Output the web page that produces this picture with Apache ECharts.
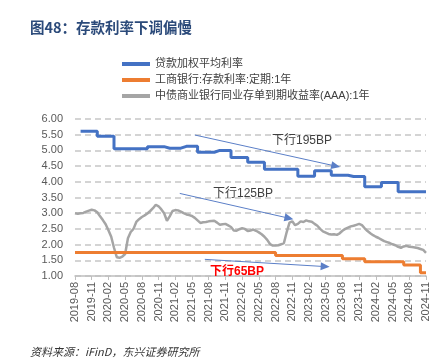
<!DOCTYPE html>
<html><head><meta charset="utf-8">
<script src="https://cdn.jsdelivr.net/npm/echarts@6/dist/echarts.min.js"></script>
<style>html,body{margin:0;padding:0;background:#fff}#c{width:436px;height:359px}</style>
</head><body><div id="c"></div>
<script>
// x-axis: month index 0 = 2019-08 ... 63 = 2024-11
const tickLabels = ['2019-08','2019-11','2020-02','2020-05','2020-08','2020-11','2021-02','2021-05','2021-08','2021-11','2022-02','2022-05','2022-08','2022-11','2023-02','2023-05','2023-08','2023-11','2024-02','2024-05','2024-08','2024-11'];
const seriesNames = ['贷款加权平均利率','工商银行:存款利率:定期:1年','中债商业银行同业存单到期收益率(AAA):1年'];

// monthly values, index = month (0 = 2019-08)
const loanRate = [null,
  5.61,5.61,5.61, 5.45,5.45,5.45, 5.05,5.05,5.05,5.05,5.05,5.05,
  5.12,5.12,5.12, 5.07,5.07,5.07, 5.13,5.13,5.13, 4.94,4.94,4.94,
  5.00,5.00,5.00, 4.77,4.77,4.77, 4.62,4.62,4.62,
  4.40,4.40,4.40,4.40,4.40,4.40, 4.18,4.18,4.18, 4.35,4.35,4.35,
  4.21,4.21,4.21, 4.17,4.17,4.17, 3.84,3.84,3.84, 3.98,3.98,3.98,
  3.68,3.68,3.68,3.68,3.68,3.68];
const icbcDeposit = [
  1.75,1.75,1.75,1.75,1.75,1.75,1.75,1.75,1.75,1.75,1.75,1.75,
  1.75,1.75,1.75,1.75,1.75,1.75,1.75,1.75,1.75,1.75,1.75,1.75,
  1.75,1.75,1.75,1.75,1.75,1.75,1.75,1.75,1.75,1.75,1.75,1.75,
  1.65,1.65,1.65,1.65,1.65,1.65,1.65,1.65,1.65,1.65,1.65,1.65,
  1.55,1.55,1.55,1.55,
  1.45,1.45,1.45,1.45,1.45,1.45,1.45,
  1.35,1.35,1.35,
  1.10,1.10];
// half-monthly values, index/2 = month
const ncdYield = [
  3.00,2.98,3.00,3.01,3.05,3.08,3.11,3.09,3.03,2.90,
  2.78,2.65,2.46,2.25,1.90,1.60,1.58,1.62,1.70,2.20,
  2.40,2.50,2.72,2.81,2.88,2.93,2.99,3.07,3.16,3.27,
  3.22,3.12,3.00,2.76,2.90,3.07,3.10,3.09,3.05,3.00,
  2.96,2.94,2.91,2.85,2.77,2.69,2.71,2.72,2.74,2.75,
  2.76,2.70,2.63,2.65,2.66,2.61,2.56,2.45,2.44,2.49,
  2.52,2.50,2.43,2.45,2.48,2.44,2.39,2.33,2.25,2.15,
  2.02,1.97,1.97,1.98,2.01,2.05,2.40,2.70,2.74,2.62,
  2.66,2.74,2.72,2.77,2.74,2.73,2.66,2.60,2.50,2.42,
  2.38,2.34,2.32,2.33,2.31,2.36,2.44,2.50,2.54,2.58,
  2.60,2.63,2.66,2.62,2.52,2.43,2.36,2.30,2.25,2.21,
  2.16,2.11,2.08,2.05,2.01,1.98,1.93,1.90,1.94,1.96,
  1.93,1.92,1.91,1.89,1.86,1.83,1.74];

// annotation arrows [startMonth, startValue, endMonth, endValue] and labels
const arrows = [[21.5,5.49,46.8,4.50],[18.8,3.63,38.4,2.84],[23.3,1.53,44.9,1.30]];
const notes = ['下行195BP','下行125BP','下行65BP'];

const lastIdx = loanRate.length - 1;
function stepPairs(arr){
  const out = [];
  arr.forEach((v,i)=>{ if(v==null) return; out.push([i,v]); out.push([Math.min(i+1,lastIdx),v]); });
  return out;
}
const ncdPairs = ncdYield.map((v,i)=>[i/2,v]);

const chart = echarts.init(document.getElementById('c'));
const CJK = 'Liberation Sans, "Noto Sans CJK SC", sans-serif';
chart.setOption({
  animation:false,
  textStyle:{fontFamily:CJK},
  grid:{left:75,right:10,top:119,bottom:83},
  legend:{
    orient:'vertical', left:117, top:53, itemWidth:28, itemHeight:4, itemGap:4,
    icon:'rect', data:seriesNames,
    textStyle:{fontSize:11,color:'#404040',fontFamily:CJK,lineHeight:12}
  },
  xAxis:{
    type:'value', min:0, max:lastIdx, interval:3,
    axisLine:{show:true,lineStyle:{color:'#BFBFBF',width:1.5}},
    axisTick:{show:true,length:4,lineStyle:{color:'#BFBFBF'}},
    splitLine:{show:false},
    axisLabel:{rotate:90,fontSize:11,color:'#595959',margin:6,
      formatter:v=>tickLabels[Math.round(v/3)]||''}
  },
  yAxis:{
    type:'value', min:1, max:6, interval:0.5,
    axisLine:{show:false}, axisTick:{show:false},
    axisLabel:{fontSize:11,color:'#595959',margin:12,formatter:v=>v.toFixed(2)},
    splitLine:{lineStyle:{color:'#D4D4D4',type:[6,4],width:2}}
  },
  series:[
    {name:seriesNames[2],type:'line',data:ncdPairs,showSymbol:false,symbol:'none',
      lineStyle:{color:'#A5A5A5',width:2.5},itemStyle:{color:'#A5A5A5'},z:2,
      markLine:{silent:true,symbol:['none','triangle'],symbolSize:[8,9],
        label:{show:false},
        lineStyle:{color:'#5B7FC7',width:1,type:'solid'},
        data:arrows.map(a=>[{coord:[a[0],a[1]]},{coord:[a[2],a[3]]}])}},
    {name:seriesNames[0],type:'line',data:stepPairs(loanRate),showSymbol:false,symbol:'none',
      lineStyle:{color:'#4472C4',width:3},itemStyle:{color:'#4472C4'},z:3},
    {name:seriesNames[1],type:'line',data:stepPairs(icbcDeposit),showSymbol:false,symbol:'none',
      lineStyle:{color:'#ED7D31',width:3},itemStyle:{color:'#ED7D31'},z:4}
  ],
  graphic:[
    {type:'text',x:30,y:27,style:{text:'图48：存款利率下调偏慢',fill:'#2B4A7A',
      font:'bold 14.5px "Noto Sans CJK SC", sans-serif',verticalAlign:'middle'}},
    {type:'text',x:272,y:141,z:10,style:{text:notes[0],fill:'#404040',
      font:'12px Liberation Sans, "Noto Sans CJK SC", sans-serif',verticalAlign:'middle'}},
    {type:'text',x:213,y:193.5,z:10,style:{text:notes[1],fill:'#404040',
      font:'12px Liberation Sans, "Noto Sans CJK SC", sans-serif',verticalAlign:'middle'}},
    {type:'text',x:210,y:272,z:10,style:{text:notes[2],fill:'#FF0000',
      font:'bold 12px Liberation Sans, "Noto Sans CJK SC", sans-serif',verticalAlign:'middle'}},
    {type:'text',x:30,y:352,style:{text:'资料来源：iFinD，东兴证券研究所',fill:'#333333',
      font:'italic 11px "Noto Sans CJK SC", sans-serif',verticalAlign:'middle'}}
  ]
});
</script></body></html>
